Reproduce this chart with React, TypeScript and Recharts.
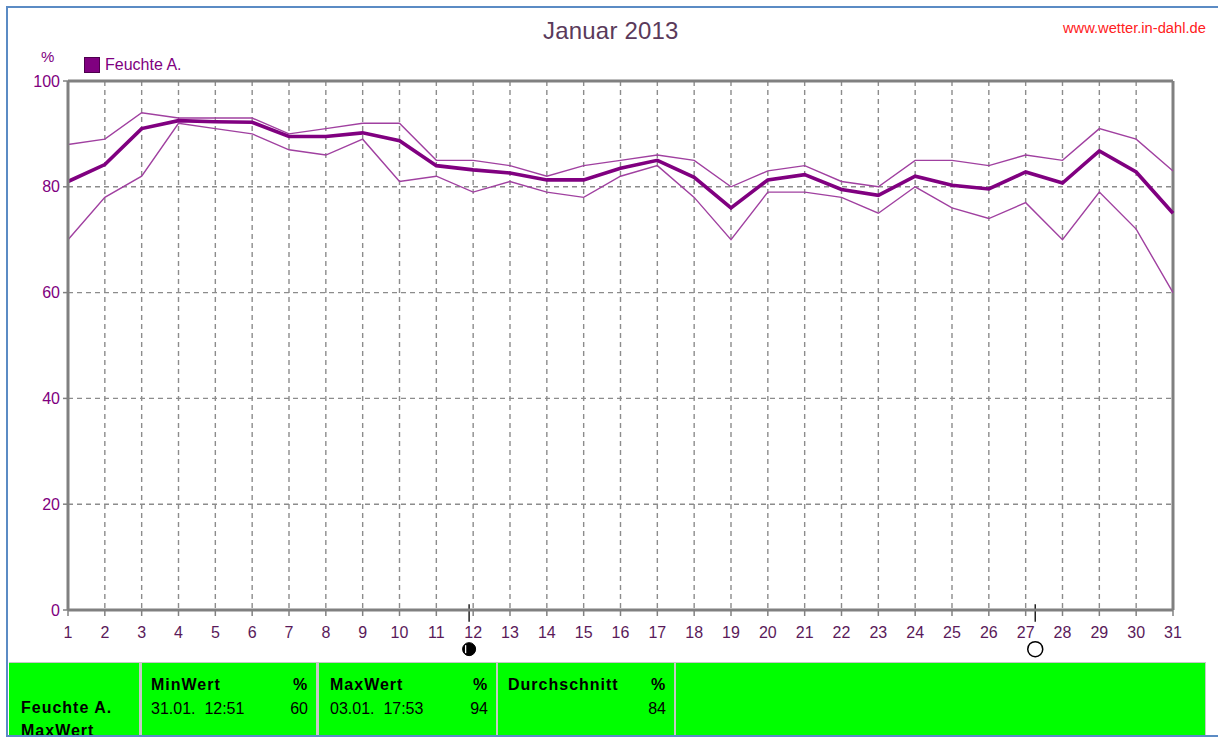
import { CartesianGrid, Legend, Line, LineChart, ReferenceDot, ReferenceLine, XAxis, YAxis } from 'recharts'

const days = [1, 2, 3, 4, 5, 6, 7, 8, 9, 10, 11, 12, 13, 14, 15, 16, 17, 18, 19, 20, 21, 22, 23, 24, 25, 26, 27, 28, 29, 30, 31]
const maxValues = [88, 89, 94, 93, 93, 93, 90, 91, 92, 92, 85, 85, 84, 82, 84, 85, 86, 85, 80, 83, 84, 81, 80, 85, 85, 84, 86, 85, 91, 89, 83]
const avgValues = [81, 84.2, 91, 92.5, 92.3, 92.2, 89.5, 89.5, 90.2, 88.7, 84, 83.2, 82.6, 81.3, 81.3, 83.5, 85, 81.8, 76, 81.3, 82.3, 79.5, 78.4, 82, 80.3, 79.6, 82.8, 80.7, 86.8, 82.8, 75]
const minValues = [70, 78, 82, 92, 91, 90, 87, 86, 89, 81, 82, 79, 81, 79, 78, 82, 84, 78, 70, 79, 79, 78, 75, 80, 76, 74, 77, 70, 79, 72, 60]
const yTicks = [0, 20, 40, 60, 80, 100]

// Mondphasen: Halbmond und Vollmond unter der Achse
const halfMoonDay = 11.89
const fullMoonDay = 27.26

const data = days.map((day, i) => ({ day, max: maxValues[i], avg: avgValues[i], min: minValues[i] }))

const FONT = '"Liberation Sans", Arial, sans-serif'
const GREY = '#808080'
const PURPLE = '#800080'
const THIN = '#a040a0'

const at = (left: number, top: number): React.CSSProperties => ({ position: 'absolute', left, top, whiteSpace: 'pre' })

function FeuchteLegend() {
  return (
    <div style={{ display: 'flex', alignItems: 'center', fontFamily: FONT, fontSize: 16, color: PURPLE }}>
      <span style={{ width: 14, height: 14, background: PURPLE, border: '1px solid #4d004d', marginRight: 5 }} />
      Feuchte A.
    </div>
  )
}

// Schwarzer Kreis mit schmaler heller Sichel links
function HalfMoon({ cx, cy }: { cx?: number; cy?: number }) {
  return (
    <g>
      <circle cx={cx} cy={cy} r={6.5} fill="#000" stroke="#000" />
      <path d={`M${(cx ?? 0) - 3.5} ${(cy ?? 0) - 4}v8`} stroke="#fff" strokeWidth={1.3} />
    </g>
  )
}

function Panel({ left, width, children }: { left: number; width: number; children?: React.ReactNode }) {
  return <div style={{ position: 'absolute', left, top: 663, width, height: 72, background: '#00ff00', overflow: 'hidden' }}>{children}</div>
}

const bold: React.CSSProperties = { fontWeight: 700, letterSpacing: 1 }

function StatPanel({ left, width, textLeft, name, when, value }: { left: number; width: number; textLeft: number; name: string; when: string; value: string }) {
  return (
    <Panel left={left} width={width}>
      <div style={{ ...at(textLeft, 13), ...bold }}>{name}</div>
      <div style={{ ...at(width - 23, 13), ...bold, letterSpacing: 0 }}>%</div>
      <div style={at(textLeft, 37)}>{when}</div>
      <div style={{ ...at(width - 30, 37), width: 22, textAlign: 'right' }}>{value}</div>
    </Panel>
  )
}

export default function App() {
  return (
    <div style={{ position: 'fixed', left: 0, top: 0, width: 1218, height: 740, background: '#fff', overflow: 'hidden', fontFamily: FONT, fontSize: 16, color: '#000' }}>
      <div style={{ position: 'absolute', left: 6, top: 6, width: 1212, height: 727, borderTop: '2px solid #5b8bc4', borderLeft: '2px solid #5b8bc4', borderBottom: '2px solid #5b8bc4' }} />

      <div style={{ ...at(543, 17), fontSize: 24, letterSpacing: 0.2, color: '#5a3a5a' }}>Januar 2013</div>
      <div style={{ ...at(1063, 20), fontSize: 14.7, color: '#ff2020' }}>www.wetter.in-dahl.de</div>
      <div style={{ ...at(41, 48), fontSize: 15, color: PURPLE }}>%</div>

      <div style={{ position: 'absolute', left: 0, top: 0 }}>
        <LineChart width={1218} height={740} data={data} margin={{ top: 81, right: 45, bottom: 90, left: 0 }}>
          <CartesianGrid stroke="#8c8c8c" strokeWidth={1.4} strokeDasharray="5 4" />
          <XAxis
            dataKey="day"
            type="number"
            domain={[1, 31]}
            ticks={days}
            interval={0}
            height={40}
            stroke={GREY}
            strokeWidth={3}
            tickSize={6}
            tickMargin={11}
            tick={{ fontSize: 16, fill: '#5a1a5a', fontFamily: FONT }}
            tickLine={{ stroke: GREY, strokeWidth: 1.5 }}
          />
          <YAxis
            domain={[0, 100]}
            ticks={yTicks}
            width={68}
            stroke={GREY}
            strokeWidth={3}
            tickSize={5}
            tickMargin={3}
            tick={{ fontSize: 16, fill: PURPLE, fontFamily: FONT }}
            tickLine={{ stroke: GREY, strokeWidth: 1.5 }}
          />
          <Legend
            verticalAlign="middle"
            align="center"
            content={FeuchteLegend}
            wrapperStyle={{ position: 'absolute', left: 84, top: 56, width: 'auto' }}
          />
          <ReferenceLine y={100} stroke={GREY} strokeWidth={3} />
          <ReferenceLine x={31} stroke={GREY} strokeWidth={3} />
          <Line dataKey="max" legendType="none" stroke={THIN} strokeWidth={1.4} dot={false} activeDot={false} isAnimationActive={false} />
          <Line dataKey="min" legendType="none" stroke={THIN} strokeWidth={1.4} dot={false} activeDot={false} isAnimationActive={false} />
          <Line dataKey="avg" name="Feuchte A." stroke={PURPLE} strokeWidth={3.6} dot={false} activeDot={false} isAnimationActive={false} />
          <ReferenceLine segment={[{ x: halfMoonDay, y: 1.1 }, { x: halfMoonDay, y: -2.2 }]} stroke="#222" strokeWidth={1.5} ifOverflow="visible" />
          <ReferenceLine segment={[{ x: fullMoonDay, y: 1.1 }, { x: fullMoonDay, y: -2.2 }]} stroke="#222" strokeWidth={1.5} ifOverflow="visible" />
          <ReferenceDot x={halfMoonDay} y={-7.4} shape={HalfMoon} ifOverflow="visible" />
          <ReferenceDot x={fullMoonDay} y={-7.4} r={7.5} fill="#fff" stroke="#000" strokeWidth={1.5} ifOverflow="visible" />
        </LineChart>
      </div>

      <div style={{ position: 'absolute', left: 9, top: 662, width: 1197, height: 73, background: '#c8c8c8' }} />
      <Panel left={9} width={130}>
        <div style={{ ...at(12, 36), ...bold }}>Feuchte A.</div>
        <div style={{ ...at(12, 59), ...bold }}>MaxWert</div>
      </Panel>
      <StatPanel left={142} width={174} textLeft={9} name="MinWert" when="31.01.  12:51" value="60" />
      <StatPanel left={319} width={177} textLeft={11} name="MaxWert" when="03.01.  17:53" value="94" />
      <StatPanel left={498} width={176} textLeft={10} name="Durchschnitt" when="" value="84" />
      <Panel left={676} width={529} />
    </div>
  )
}
